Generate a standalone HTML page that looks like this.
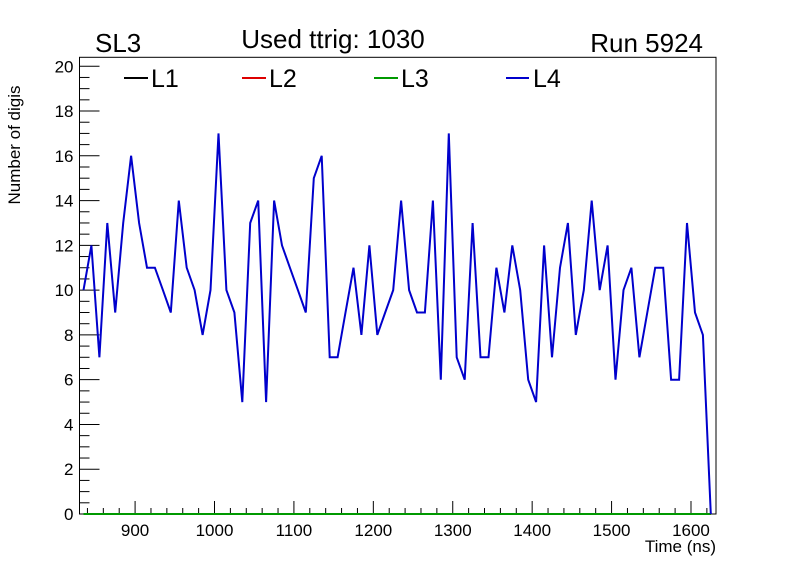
<!DOCTYPE html>
<html><head><meta charset="utf-8"><style>
body{margin:0;background:#fff;}
svg{display:block;font-family:"Liberation Sans",sans-serif;}
</style></head><body>
<svg id="c" width="796" height="572"></svg>
<script>
const timesStart = 835, binWidth = 10;
const L4 = [10,12,7,13,9,13,16,13,11,11,10,9,14,11,10,8,10,17,10,9,5,13,14,5,14,12,11,10,9,15,16,7,7,9,11,8,12,8,9,10,14,10,9,9,14,6,17,7,6,13,7,7,11,9,12,10,6,5,12,7,11,13,8,10,14,10,12,6,10,11,7,9,11,11,6,6,13,9,8,0];
const L1 = L4.map(()=>0), L2 = L4.map(()=>0), L3 = L4.map(()=>0);
const xTicks = [900,1000,1100,1200,1300,1400,1500,1600];
const yTicks = [0,2,4,6,8,10,12,14,16,18,20];
const X0=79.5,X1=716,Y0=514,Y1=57.3, xmin=830,xmax=1631.5,ymin=0,ymax=20.4;
const sx=v=>X0+(v-xmin)/(xmax-xmin)*(X1-X0);
const sy=v=>Y0-(v-ymin)/(ymax-ymin)*(Y0-Y1);
const svg=document.getElementById('c');const NS='http://www.w3.org/2000/svg';
function mk(t,a,p){const e=document.createElementNS(NS,t);for(const k in a)e.setAttribute(k,a[k]);(p||svg).appendChild(e);return e;}
const frame=mk('rect',{x:X0,y:Y1,width:X1-X0,height:Y0-Y1,fill:'none',stroke:'#000','stroke-width':1});


for(let v=0;v<=20.01;v+=0.5){const maj=Math.abs(v/2-Math.round(v/2))<1e-6;
 const t=mk('line',{x1:X0,x2:X0+(maj?20:10),y1:sy(v),y2:sy(v),stroke:'#000'});
 
 }
yTicks.forEach(v=>{const t=mk('text',{x:X0-6,y:sy(v)+6,'text-anchor':'end','font-size':17});t.textContent=v;
 
 });
for(let v=840;v<=1630;v+=20){const maj=v%100===0;
 const t=mk('line',{x1:sx(v),x2:sx(v),y1:Y0,y2:Y0-(maj?13:6),stroke:'#000'});
 
 }
xTicks.forEach(v=>{const t=mk('text',{x:sx(v),y:536,'text-anchor':'middle','font-size':17});t.textContent=v;
 
 });
function series(d,col,name){const p=d.map((v,i)=>sx(timesStart+i*binWidth).toFixed(1)+','+sy(v).toFixed(1)).join(' ');
 const e=mk('polyline',{points:p,fill:'none',stroke:col,'stroke-width':2});
 
 }
series(L1,'#000','series-l1');series(L2,'#d00','series-l2');series(L3,'#090','series-l3');series(L4,'#00c','series-l4');
</script>
<svg width="796" height="572" style="position:absolute;left:0;top:0">
<text x="95" y="52" font-size="26">SL3</text>
<text x="333" y="48" font-size="26" text-anchor="middle">Used ttrig: 1030</text>
<text x="703" y="52" font-size="26" text-anchor="end">Run 5924</text>
<g font-size="25">
<line x1="124" x2="148" y1="78" y2="78" stroke="#000" stroke-width="2"/><text x="151" y="87">L1</text>
<line x1="242" x2="266" y1="78" y2="78" stroke="#d00" stroke-width="2"/><text x="269" y="87">L2</text>
<line x1="374" x2="398" y1="78" y2="78" stroke="#090" stroke-width="2"/><text x="401" y="87">L3</text>
<line x1="506" x2="529" y1="78" y2="78" stroke="#00c" stroke-width="2"/><text x="533" y="87">L4</text>
</g>
<text x="716" y="552" font-size="17" text-anchor="end">Time (ns)</text>
<text transform="translate(20,145) rotate(-90)" font-size="17" text-anchor="middle">Number of digis</text>
</svg>
</body></html>
